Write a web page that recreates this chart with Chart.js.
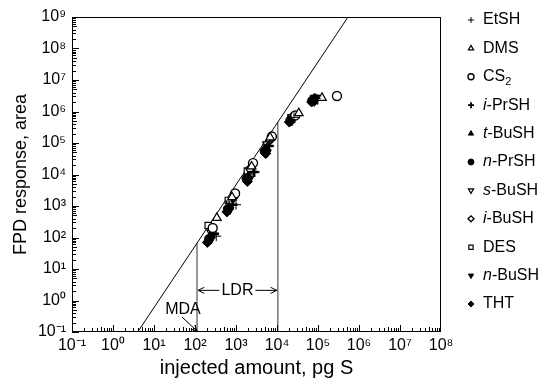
<!DOCTYPE html>
<html>
<head>
<meta charset="utf-8">
<script src="https://cdn.jsdelivr.net/npm/chart.js@4.4.1/dist/chart.umd.min.js"></script>
<style>
html, body { margin: 0; padding: 0; background: #fff; }
#wrap { width: 549px; height: 382px; position: relative; }
</style>
</head>
<body>
<div id="wrap"><canvas id="myChart"></canvas></div>
<script>
// compounds, in legend order
var names = ['EtSH', 'DMS', 'CS2', 'i-PrSH', 't-BuSH', 'n-PrSH', 's-BuSH', 'i-BuSH', 'DES', 'n-BuSH', 'THT'];

// injected amount (pg S) and FPD area
var etshX = [3.3e2, 1.0e3, 2.9e3, 6.5e3, 2.6e4, 8.8e4];
var etshY = [1.1e2, 1.1e3, 1.2e4, 8.0e4, 6.5e5, 2.6e6];
var dmsX = [3.4e2, 8.0e2, 2.4e3, 6.8e3, 3.4e4, 1.25e5];
var dmsY = [4.2e2, 1.9e3, 1.8e4, 1.5e5, 8.9e5, 2.7e6];
var cs2X = [2.7e2, 9.5e2, 2.6e3, 7.5e3, 2.8e4, 2.9e5];
var cs2Y = [2.0e2, 2.5e3, 2.3e4, 1.6e5, 7.5e5, 3.1e6];
var iprshX = [2.9e2, 8.2e2, 2.7e3, 6.2e3, 2.4e4, 9.5e4];
var iprshY = [1.3e2, 1.1e3, 1.2e4, 8.0e4, 6.2e5, 2.4e6];
var tbushX = [2.3e2, 6.8e2, 2.0e3, 5.6e3, 2.2e4, 8.0e4];
var tbushY = [1.1e2, 9.5e2, 9.0e3, 7.0e4, 5.5e5, 2.6e6];
var nprshX = [2.2e2, 6.3e2, 1.8e3, 5.0e3, 2.1e4, 7.2e4];
var nprshY = [9.0e1, 8.0e2, 7.5e3, 5.5e4, 5.2e5, 2.2e6];
var sbushX = [2.5e2, 7.2e2, 2.2e3, 5.8e3, 2.4e4, 8.5e4];
var sbushY = [1.4e2, 1.2e3, 1.3e4, 9.0e4, 6.6e5, 2.7e6];
var ibushX = [2.6e2, 8.6e2, 2.3e3, 6.4e3, 2.3e4, 8.4e4];
var ibushY = [1.8e2, 1.8e3, 1.7e4, 1.1e5, 6.8e5, 2.6e6];
var desX = [2.1e2, 6.5e2, 1.9e3, 5.5e3, 2.2e4, 7.8e4];
var desY = [2.4e2, 1.5e3, 1.3e4, 8.5e4, 6.3e5, 2.5e6];
var nbushX = [2.4e2, 7.0e2, 2.1e3, 5.7e3, 2.3e4, 8.2e4];
var nbushY = [8.5e1, 7.5e2, 7.0e3, 5.0e4, 5.0e5, 2.1e6];
var thtX = [2.0e2, 6.0e2, 1.9e3, 5.3e3, 2.0e4, 7.0e4];
var thtY = [7.0e1, 6.5e2, 6.0e3, 4.6e4, 4.6e5, 2.0e6];

// fitted line and the MDA / LDR marks
var fitX = [4, 5.4e5];
var fitY = [0.1, 1e9];
var mdaX = [1.12e2, 1.12e2];
var mdaY = [0.1, 66];
var ldrX = [1.05e4, 1.05e4];
var ldrY = [0.1, 4.6e5];
var ldrArrowY = 2.1;
var mdaTextPos = [51, 0.5];
var mdaArrowFrom = [48, 0.3];

var xTicks = [1e-1, 1e0, 1e1, 1e2, 1e3, 1e4, 1e5, 1e6, 1e7, 1e8];
var yTicks = [1e-1, 1e0, 1e1, 1e2, 1e3, 1e4, 1e5, 1e6, 1e7, 1e8, 1e9];

var sup = {'-': '\u207B', '0': '\u2070', '1': '\u00B9', '2': '\u00B2', '3': '\u00B3', '4': '\u2074', '5': '\u2075', '6': '\u2076', '7': '\u2077', '8': '\u2078', '9': '\u2079'};
function powLabel(v) {
    var e = String(Math.round(Math.log10(v)));
    var s = '10';
    for (var i = 0; i < e.length; i++) s += sup[e[i]];
    return s;
}

function pts(xs, ys) {
    return xs.map(function (x, i) { return {x: x, y: ys[i]}; });
}

var FONT = '"Liberation Sans", Arial, sans-serif';

// marker per compound: style, filled?, rotation, radius, border width
var styles = [
    ['cross', false, 0, 5, 1],
    ['triangle', false, 0, 5, 1.2],
    ['circle', false, 0, 4.5, 1.4],
    ['cross', true, 0, 5, 2.6],
    ['triangle', true, 0, 5, 1],
    ['circle', true, 0, 4.5, 1],
    ['triangle', false, 180, 5, 1.2],
    ['rectRot', false, 0, 4, 1.3],
    ['rect', false, 0, 4.5, 1.2],
    ['triangle', true, 180, 5, 1],
    ['rectRot', true, 0, 5, 1]
];
var allX = [etshX, dmsX, cs2X, iprshX, tbushX, nprshX, sbushX, ibushX, desX, nbushX, thtX];
var allY = [etshY, dmsY, cs2Y, iprshY, tbushY, nprshY, sbushY, ibushY, desY, nbushY, thtY];

var datasets = [];
names.forEach(function (n, i) {
    var s = styles[i];
    datasets.push({
        type: 'scatter',
        label: n,
        data: pts(allX[i], allY[i]),
        pointStyle: s[0],
        rotation: s[2],
        pointRadius: s[3],
        pointBorderWidth: s[4],
        borderColor: '#000',
        backgroundColor: s[1] ? '#000' : '#fff',
        isCompound: true
    });
});
datasets.push({
    type: 'line', label: 'fit', data: pts(fitX, fitY),
    borderColor: '#000', borderWidth: 1, pointRadius: 0
});
datasets.push({
    type: 'line', label: 'MDA', data: pts(mdaX, mdaY),
    borderColor: '#333', borderWidth: 1, pointRadius: 0
});
datasets.push({
    type: 'line', label: 'LDR', data: pts(ldrX, ldrY),
    borderColor: '#333', borderWidth: 1, pointRadius: 0
});

function arrowHead(ctx, x1, y1, x2, y2, len) {
    var a = Math.atan2(y2 - y1, x2 - x1);
    ctx.beginPath();
    ctx.moveTo(x2 - len * Math.cos(a - 0.45), y2 - len * Math.sin(a - 0.45));
    ctx.lineTo(x2, y2);
    ctx.lineTo(x2 - len * Math.cos(a + 0.45), y2 - len * Math.sin(a + 0.45));
    ctx.stroke();
}

var extras = {
    id: 'extras',
    afterDraw: function (chart) {
        var ctx = chart.ctx;
        var xs = chart.scales.x, ys = chart.scales.y;
        var a = chart.chartArea;
        ctx.save();
        ctx.strokeStyle = '#000';
        ctx.lineWidth = 1;
        ctx.strokeRect(a.left + 0.5, a.top + 0.5, a.right - a.left - 1, a.bottom - a.top - 1);

        // inward ticks
        ctx.beginPath();
        for (var e = -1; e < 8; e++) {
            for (var m = 1; m < 10; m++) {
                var px = Math.round(xs.getPixelForValue(m * Math.pow(10, e))) + 0.5;
                var L = m == 1 ? 7 : (m == 5 ? 5 : 4);
                ctx.moveTo(px, a.bottom);
                ctx.lineTo(px, a.bottom - L);
            }
        }
        for (var e2 = -1; e2 < 9; e2++) {
            for (var m2 = 1; m2 < 10; m2++) {
                var py = Math.round(ys.getPixelForValue(m2 * Math.pow(10, e2))) + 0.5;
                var L2 = m2 == 1 ? 7 : (m2 == 5 ? 5 : 4);
                ctx.moveTo(a.left, py);
                ctx.lineTo(a.left + L2, py);
            }
        }
        ctx.stroke();

        // LDR arrows
        var lx1 = xs.getPixelForValue(mdaX[0]) + 1;
        var lx2 = xs.getPixelForValue(ldrX[0]) - 1;
        var ly = ys.getPixelForValue(ldrArrowY);
        ctx.font = '16px ' + FONT;
        ctx.fillStyle = '#000';
        ctx.textAlign = 'center';
        ctx.textBaseline = 'middle';
        var mid = (lx1 + lx2) / 2;
        ctx.fillText('LDR', mid, ly);
        var tw = ctx.measureText('LDR').width / 2 + 2;
        ctx.beginPath();
        ctx.moveTo(lx1, ly); ctx.lineTo(mid - tw, ly);
        ctx.moveTo(mid + tw, ly); ctx.lineTo(lx2, ly);
        ctx.stroke();
        arrowHead(ctx, mid - tw, ly, lx1, ly, 7);
        arrowHead(ctx, mid + tw, ly, lx2, ly, 7);

        // MDA label and arrow
        ctx.fillText('MDA', xs.getPixelForValue(mdaTextPos[0]), ys.getPixelForValue(mdaTextPos[1]));
        var ax1 = xs.getPixelForValue(mdaArrowFrom[0]), ay1 = ys.getPixelForValue(mdaArrowFrom[1]);
        var ax2 = xs.getPixelForValue(mdaX[0]), ay2 = ys.getPixelForValue(mdaY[0]) - 1;
        ctx.beginPath();
        ctx.moveTo(ax1, ay1); ctx.lineTo(ax2, ay2);
        ctx.stroke();
        arrowHead(ctx, ax1, ay1, ax2, ay2, 6);

        // legend
        var lx = a.right + 30, ly0 = 20, step = 28.4;
        chart.data.datasets.forEach(function (ds, i) {
            if (!ds.isCompound) return;
            var y = ly0 + i * step;
            ctx.strokeStyle = '#000';
            ctx.fillStyle = ds.backgroundColor;
            ctx.lineWidth = Math.min(ds.pointBorderWidth, 1.8);
            Chart.helpers.drawPoint(ctx, {pointStyle: ds.pointStyle, radius: 3, rotation: ds.rotation, borderWidth: ctx.lineWidth}, lx, y);
            ctx.fillStyle = '#000';
            ctx.textAlign = 'left';
            ctx.textBaseline = 'middle';
            var tx = lx + 12;
            var label = ds.label;
            var mm = label.match(/^([a-z])-(.*)$/);
            if (mm) {
                ctx.font = 'italic 16px ' + FONT;
                ctx.fillText(mm[1], tx, y);
                tx += ctx.measureText(mm[1]).width;
                label = '-' + mm[2];
            }
            for (var k = 0; k < label.length; k++) {
                var c = label[k];
                if (/[0-9]/.test(c)) {
                    ctx.font = '11px ' + FONT;
                    ctx.fillText(c, tx, y + 5);
                } else {
                    ctx.font = '16px ' + FONT;
                    ctx.fillText(c, tx, y);
                }
                tx += ctx.measureText(c).width;
            }
        });
        ctx.restore();
    }
};

const ctx = document.getElementById('myChart').getContext('2d');
const myChart = new Chart(ctx, {
    type: 'scatter',
    data: { datasets: datasets },
    plugins: [extras],
    options: {
        responsive: true,
        maintainAspectRatio: false,
        animation: false,
        layout: { padding: { top: 17, right: 108, left: 0, bottom: 0 } },
        plugins: { legend: { display: false }, tooltip: { enabled: false } },
        scales: {
            x: {
                type: 'logarithmic',
                min: 1e-1, max: 1e8,
                afterBuildTicks: function (s) { s.ticks = xTicks.map(function (v) { return {value: v}; }); },
                afterFit: function (s) { s.height = 50; },
                grid: { display: false, drawTicks: false },
                border: { display: false },
                ticks: {
                    color: '#000', font: { family: FONT, size: 16 }, padding: 4,
                    maxRotation: 0, autoSkip: false,
                    callback: function (v) { return powLabel(v); }
                },
                title: { display: true, text: 'injected amount, pg S', color: '#000',
                    font: { family: FONT, size: 20 }, padding: { top: 0, bottom: 2 } }
            },
            y: {
                type: 'logarithmic',
                min: 1e-1, max: 1e9,
                afterBuildTicks: function (s) { s.ticks = yTicks.map(function (v) { return {value: v}; }); },
                afterFit: function (s) { s.width = 72; },
                grid: { display: false, drawTicks: false },
                border: { display: false },
                ticks: {
                    color: '#000', font: { family: FONT, size: 16 }, padding: 6,
                    autoSkip: false,
                    callback: function (v) { return powLabel(v); }
                },
                title: { display: true, text: 'FPD response, area', color: '#000',
                    font: { family: FONT, size: 18 }, padding: { top: 10, bottom: 0 } }
            }
        }
    }
});
</script>
</body>
</html>
